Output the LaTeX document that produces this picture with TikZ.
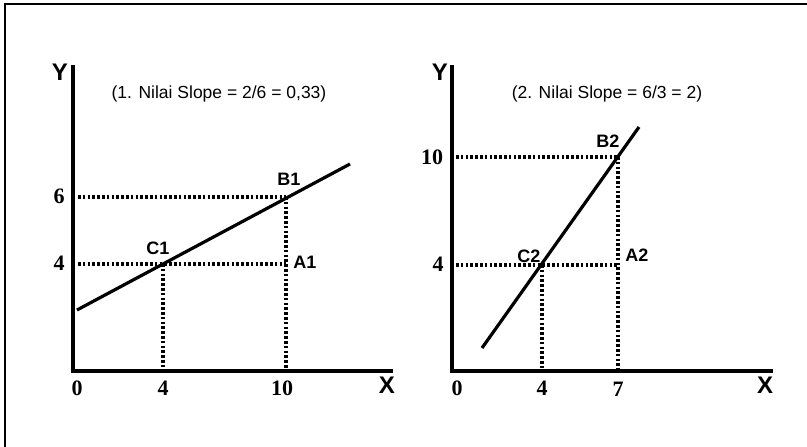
\documentclass[tikz,border=0pt]{standalone}
\usepackage{fontspec}
\setmainfont{Liberation Sans}
\newfontfamily\tickfont{Liberation Serif}
\begin{document}
\begin{tikzpicture}[x=1pt,y=-1pt,
  axis/.style={line width=3.4pt,line cap=rect},
  slopeline/.style={line width=3.2pt},
  guide/.style={line width=3.2pt,dash pattern=on 2.6pt off 2.2pt},
  axlabel/.style={font=\fontsize{24}{24}\selectfont\bfseries,inner sep=0pt},
  tick/.style={font=\tickfont\fontsize{22}{22}\selectfont\bfseries,inner sep=0pt},
  ptlabel/.style={font=\fontsize{18}{18}\selectfont\bfseries,inner sep=0pt},
  title/.style={font=\fontsize{17.5}{17.5}\selectfont,inner sep=0pt}]
\useasboundingbox (0,0) rectangle (807,447);
% frame
\coordinate (F1) at (5,447);
\coordinate (F2) at (5,4);
\coordinate (F3) at (807,4);
\draw[line width=2.2pt] (F1) -- (F2) -- (F3);

% ---------- left panel ----------
\coordinate (O1) at (73,371);
\coordinate (Y1) at (73,67);
\coordinate (X1) at (391,371);
\draw[axis] (Y1) -- (O1) -- (X1);
\coordinate (L1a) at (77,310);
\coordinate (L1b) at (350,164);
\coordinate (C1) at (163,264);
\coordinate (B1) at (286,197);
\coordinate (Y6) at (78,197);
\coordinate (Y4a) at (78,264);
\coordinate (A1) at (286,264);
\coordinate (XC1) at (163,369);
\coordinate (XB1) at (286,369);
\draw[guide] (Y6) -- (B1);
\draw[guide] (Y4a) -- (A1);
\draw[guide] (C1) -- (XC1);
\draw[guide] (B1) -- (XB1);
\draw[slopeline] (L1a) -- (L1b);
\node[axlabel] (tY1) at (60,72) {Y};
\node[axlabel] (tX1) at (387,385) {X};
\node[title] (t1) at (219,94) {(1. Nilai Slope = 2/6 = 0,33)};
\node[tick] (n6) at (59,196) {6};
\node[tick] (n4a) at (59,263) {4};
\node[tick] (n0a) at (77,388) {0};
\node[tick] (n4b) at (163,388) {4};
\node[tick] (n10a) at (282,388) {10};
\node[ptlabel] (lC1) at (158,248) {C1};
\node[ptlabel] (lB1) at (289,179) {B1};
\node[ptlabel] (lA1) at (305,262) {A1};

% ---------- right panel ----------
\coordinate (O2) at (452,371);
\coordinate (Y2) at (452,67);
\coordinate (X2) at (771,371);
\draw[axis] (Y2) -- (O2) -- (X2);
\coordinate (L2a) at (482,348);
\coordinate (L2b) at (639,127);
\coordinate (C2) at (542,265);
\coordinate (B2) at (618,157);
\coordinate (Y10) at (456,157);
\coordinate (Y4c) at (456,265);
\coordinate (A2) at (618,265);
\coordinate (XC2) at (542,369);
\coordinate (XB2) at (618,369);
\draw[guide] (Y10) -- (B2);
\draw[guide] (Y4c) -- (A2);
\draw[guide] (C2) -- (XC2);
\draw[guide] (B2) -- (XB2);
\draw[slopeline] (L2a) -- (L2b);
\node[axlabel] (tY2) at (440,72) {Y};
\node[axlabel] (tX2) at (765,385) {X};
\node[title] (t2) at (607,94) {(2. Nilai Slope = 6/3 = 2)};
\node[tick] (n10b) at (432,157) {10};
\node[tick] (n4c) at (438,264) {4};
\node[tick] (n0b) at (457,388) {0};
\node[tick] (n4d) at (542,388) {4};
\node[tick] (n7) at (618,389) {7};
\node[ptlabel] (lC2) at (529,256) {C2};
\node[ptlabel] (lB2) at (608,141) {B2};
\node[ptlabel] (lA2) at (637,255) {A2};
\end{tikzpicture}
\end{document}
